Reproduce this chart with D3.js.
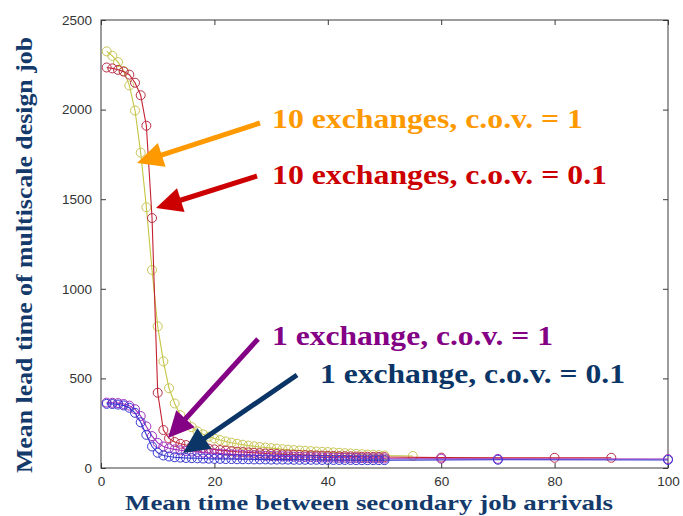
<!DOCTYPE html>
<html>
<head>
<meta charset="utf-8">
<script src="https://cdn.jsdelivr.net/npm/d3@7"></script>
<style>
  html, body { margin: 0; padding: 0; background: #fff; }
  svg { display: block; }
</style>
</head>
<body>
<script>
// ---------- data ----------
const yellowX = [1,2,3,4,5,6,7,8,9,10,11,12,13,14,15,16,17,18,19,20,21,22,23,24,25,26,27,28,29,30,31,32,33,34,35,36,37,38,39,40,41,42,43,44,45,46,47,48,49,50,55];
const yellowY = [2325,2300,2265,2215,2135,1995,1760,1455,1105,790,595,445,360,295,255,228,205,188,175,165,156,148,141,135,130,125,121,117,114,111,108,105,102,100,98,96,94,92,90,89,87,85,83,81,79,77,75,74,72,70,67];

const redX = [1,2,3,4,5,6,7,8,9,10,11,12,13,14,15,16,17,18,19,20,21,22,23,24,25,26,27,28,29,30,31,32,33,34,35,36,37,38,39,40,41,42,43,44,45,46,47,48,49,50,60,80,90];
const redY = [2235,2230,2222,2212,2195,2150,2080,1910,1395,420,212,165,145,135,128,122,117,112,108,104,100,97,94,91,89,87,85,83,81,79,78,76,75,74,73,72,71,70,69,68,67,66,66,65,64,63,63,62,62,61,58,57,57];

const purpleX = [1,2,3,4,5,6,7,8,9,10,11,12,13,14,15,16,17,18,19,20,21,22,23,24,25,26,27,28,29,30,31,32,33,34,35,36,37,38,39,40,41,42,43,44,45,46,47,48,49,50,60,70,100];
const purpleY = [365,364,362,357,348,328,290,232,178,140,120,110,104,99,95,92,89,86,84,82,80,78,76,75,73,72,71,70,68,67,66,65,64,63,62,61,61,60,59,59,58,57,57,56,56,55,55,54,54,53,52,51,50];

const blueX = [1,2,3,4,5,6,7,8,9,10,11,12,13,14,15,16,17,18,19,20,21,22,23,24,25,26,27,28,29,30,31,32,33,34,35,36,37,38,39,40,41,42,43,44,45,46,47,48,49,50,70,100];
const blueY = [358,357,354,349,336,308,255,185,120,85,70,64,60,58,56,55,54,53,52,51,51,50,50,49,49,49,48,48,48,47,47,47,47,46,46,46,46,46,45,45,45,45,45,45,44,44,44,44,44,44,46,45];

const xTicks = [0,20,40,60,80,100];
const yTicks = [0,500,1000,1500,2000,2500];

const seriesNames = ["10 exchanges, c.o.v. = 1", "10 exchanges, c.o.v. = 0.1", "1 exchange, c.o.v. = 1", "1 exchange, c.o.v. = 0.1"];
const xTitle = "Mean time between secondary job arrivals";
const yTitle = "Mean lead time of multiscale design job";

// ---------- layout ----------
const W = 683, H = 516;
const plot = {left: 101, right: 668, top: 20, bottom: 468};

const svg = d3.select("body").append("svg").attr("width", W).attr("height", H);
svg.append("rect").attr("width", W).attr("height", H).attr("fill", "#fff");

const x = d3.scaleLinear().domain([0, 100]).range([plot.left, plot.right]);
const y = d3.scaleLinear().domain([0, 2500]).range([plot.bottom, plot.top]);

// frame
const axisColor = "#3a3a3a";
svg.append("rect")
  .attr("x", plot.left).attr("y", plot.top)
  .attr("width", plot.right - plot.left).attr("height", plot.bottom - plot.top)
  .attr("fill", "none").attr("stroke", axisColor).attr("stroke-width", 1);

// axes (MATLAB style: ticks inside)
const tickFont = "'Liberation Sans', Arial, sans-serif";
const xAxisB = d3.axisBottom(x).tickValues(xTicks).tickSize(-5).tickPadding(8).tickFormat(d3.format("d"));
const xAxisT = d3.axisTop(x).tickValues(xTicks).tickSize(-5).tickFormat("");
const yAxisL = d3.axisLeft(y).tickValues(yTicks).tickSize(-5).tickPadding(9).tickFormat(d3.format("d"));
const yAxisR = d3.axisRight(y).tickValues(yTicks).tickSize(-5).tickFormat("");

function styleAxis(g) {
  g.select(".domain").remove();
  g.selectAll(".tick line").attr("stroke", axisColor);
  g.selectAll(".tick text").attr("fill", "#333").style("font-family", tickFont).style("font-size", "13.5px");
}
svg.append("g").attr("transform", `translate(0,${plot.bottom})`).call(xAxisB).call(styleAxis);
svg.append("g").attr("transform", `translate(0,${plot.top})`).call(xAxisT).call(styleAxis);
svg.append("g").attr("transform", `translate(${plot.left},0)`).call(yAxisL).call(styleAxis);
svg.append("g").attr("transform", `translate(${plot.right},0)`).call(yAxisR).call(styleAxis);

// ---------- series ----------
const series = [
  {xs: yellowX, ys: yellowY, line: "#c4c640", mark: "#c8c456"},
  {xs: redX, ys: redY, line: "#c42030", mark: "#b83048"},
  {xs: purpleX, ys: purpleY, line: "#a028b8", mark: "#a030c0"},
  {xs: blueX, ys: blueY, line: "#3434cc", mark: "#3838d0"}
];
const line = d3.line().x(d => x(d[0])).y(d => y(d[1]));
series.forEach(s => {
  const pts = s.xs.map((v, i) => [v, s.ys[i]]);
  const g = svg.append("g");
  g.append("path").attr("d", line(pts)).attr("fill", "none").attr("stroke", s.line).attr("stroke-width", 1.1);
  g.selectAll("circle").data(pts).join("circle")
    .attr("cx", d => x(d[0])).attr("cy", d => y(d[1])).attr("r", 4.5)
    .attr("fill", "none").attr("stroke", s.mark).attr("stroke-width", 1);
});

// ---------- titles ----------
const serif = "'Liberation Serif', 'Times New Roman', serif";
const navy = "#143a6c";
svg.append("text").text(xTitle)
  .attr("x", 125).attr("y", 510)
  .attr("textLength", 488).attr("lengthAdjust", "spacingAndGlyphs")
  .style("font-family", serif).style("font-weight", "bold").style("font-size", "21px")
  .attr("fill", navy);
svg.append("text").text(yTitle)
  .attr("transform", "translate(32,473) rotate(-90)")
  .attr("textLength", 436).attr("lengthAdjust", "spacingAndGlyphs")
  .style("font-family", serif).style("font-weight", "bold").style("font-size", "23px")
  .attr("fill", navy);

// ---------- annotations ----------
const notes = [
  {text: seriesNames[0], color: "#ff9900", tx: 272, ty: 128, tw: 311, from: [260, 123], to: [137, 163]},
  {text: seriesNames[1], color: "#cc0000", tx: 272, ty: 184, tw: 335, from: [257, 176], to: [156, 208]},
  {text: seriesNames[2], color: "#840084", tx: 272, ty: 345, tw: 281, from: [258, 339], to: [168, 438]},
  {text: seriesNames[3], color: "#0a3566", tx: 320, ty: 383, tw: 305, from: [297, 375], to: [183, 453]}
];
notes.forEach(n => {
  svg.append("text").text(n.text)
    .attr("x", n.tx).attr("y", n.ty)
    .attr("textLength", n.tw).attr("lengthAdjust", "spacingAndGlyphs")
    .style("font-family", serif).style("font-weight", "bold").style("font-size", "27px")
    .attr("fill", n.color);
  const [x0, y0] = n.from, [x1, y1] = n.to;
  const dx = x1 - x0, dy = y1 - y0, L = Math.hypot(dx, dy);
  const ux = dx / L, uy = dy / L, px = -uy, py = ux;
  const headLen = 26, halfW = 12.5;
  const bx = x1 - ux * headLen, by = y1 - uy * headLen;
  svg.append("line").attr("x1", x0).attr("y1", y0).attr("x2", bx + ux * 2).attr("y2", by + uy * 2)
    .attr("stroke", n.color).attr("stroke-width", 5);
  svg.append("path")
    .attr("d", `M${x1},${y1}L${bx + px * halfW},${by + py * halfW}L${bx - px * halfW},${by - py * halfW}Z`)
    .attr("fill", n.color);
});
</script>
</body>
</html>
